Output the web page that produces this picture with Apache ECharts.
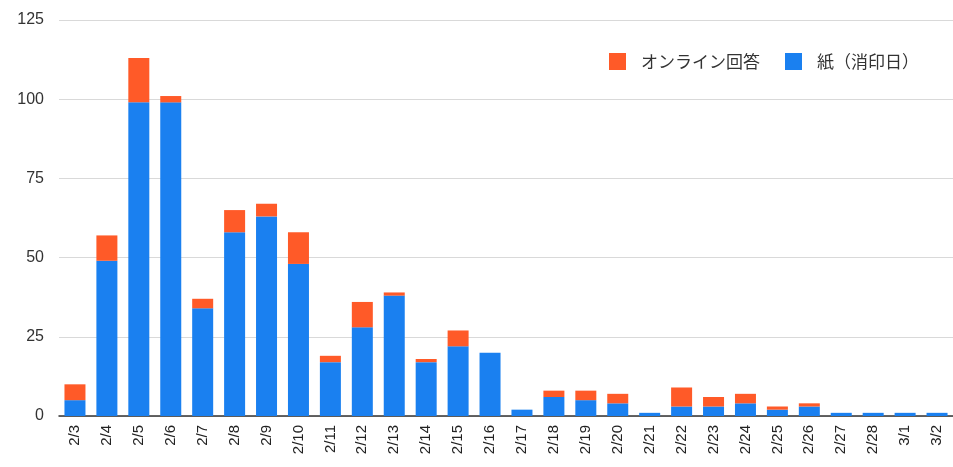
<!DOCTYPE html>
<html>
<head>
<meta charset="utf-8">
<script src="https://cdn.jsdelivr.net/npm/echarts@6/dist/echarts.min.js"></script>
<style>
  html, body { margin: 0; padding: 0; background: #fff; }
  #chart { width: 953px; height: 467px; }
</style>
</head>
<body>
<div id="chart"></div>
<script>
// 日付
let days = ['2/3', '2/4', '2/5', '2/6', '2/7', '2/8', '2/9', '2/10', '2/11', '2/12',
    '2/13', '2/14', '2/15', '2/16', '2/17', '2/18', '2/19', '2/20', '2/21', '2/22',
    '2/23', '2/24', '2/25', '2/26', '2/27', '2/28', '3/1', '3/2']

// 紙（消印日）
let paper = [5, 49, 99, 99, 34, 58, 63, 48, 17, 28,
    38, 17, 22, 20, 2, 6, 5, 4, 1, 3,
    3, 4, 2, 3, 1, 1, 1, 1]

// オンライン回答
let online = [5, 8, 14, 2, 3, 7, 4, 10, 2, 8,
    1, 1, 5, 0, 0, 2, 3, 3, 0, 6,
    3, 3, 1, 1, 0, 0, 0, 0]

let yTicks = [0, 25, 50, 75, 100, 125]

let myChart = echarts.init(document.getElementById('chart'))

let option = {
    animation: false,
    textStyle: { fontFamily: '"Liberation Sans", Arial, sans-serif' },
    legend: {
        data: ['オンライン回答', '紙（消印日）'],
        left: 604,
        top: 48,
        icon: 'rect',
        itemWidth: 17,
        itemHeight: 17,
        itemGap: 25,
        textStyle: {
            fontSize: 17,
            color: '#333',
            padding: [0, 0, 0, 10],
            fontFamily: '"Noto Sans CJK JP", sans-serif'
        }
    },
    grid: {
        left: 59,
        right: -4,
        top: 20,
        bottom: 51
    },
    xAxis: {
        type: 'category',
        data: days,
        axisTick: { show: false },
        axisLine: { lineStyle: { color: '#333', width: 1.5 } },
        axisLabel: {
            rotate: 90,
            interval: 0,
            margin: 9,
            fontSize: 15,
            color: '#222'
        }
    },
    yAxis: {
        type: 'value',
        min: yTicks[0],
        max: yTicks[yTicks.length - 1],
        interval: 25,
        axisLabel: {
            margin: 15,
            fontSize: 16,
            color: '#333'
        },
        splitLine: { lineStyle: { color: '#d9d9d9', width: 1.2 } }
    },
    series: [
        {
            name: '紙（消印日）',
            type: 'bar',
            stack: 'total',
            barWidth: 21,
            itemStyle: { color: '#1a80f0' },
            data: paper
        },
        {
            name: 'オンライン回答',
            type: 'bar',
            stack: 'total',
            barWidth: 21,
            itemStyle: { color: '#ff5a28' },
            data: online
        }
    ]
}

myChart.setOption(option)
</script>
</body>
</html>
